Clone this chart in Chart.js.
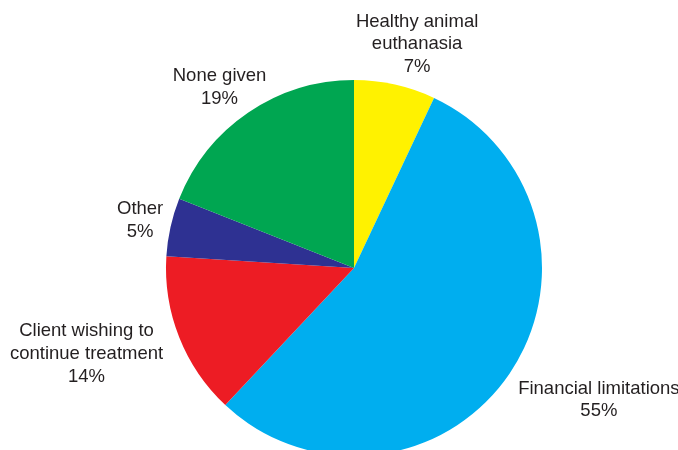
<!DOCTYPE html>
<html>
<head>
<meta charset="utf-8">
<script src="https://cdn.jsdelivr.net/npm/chart.js@4"></script>
<style>
  html, body { margin: 0; padding: 0; background: #fff; overflow: hidden; }
  #wrap { position: absolute; left: 0; top: 0; width: 678px; height: 460px; }
</style>
</head>
<body>
<div id="wrap"><canvas id="pie" width="678" height="460"></canvas></div>
<script>
const labels = [
  ['Healthy animal', 'euthanasia'],
  ['Financial limitations'],
  ['Client wishing to', 'continue treatment'],
  ['Other'],
  ['None given']
]
const shares = [7, 55, 14, 5, 19]
const colors = ['#fff200', '#00aeef', '#ed1c24', '#2e3192', '#00a651']

const FONT = '18.5px "Liberation Sans", Arial, Helvetica, sans-serif'
const LINE_H = 22.8
const GAP = 8
// small hand nudges per label so they sit clear of the pie
const NUDGE = [[7, 1], [16, 9], [-14, 1], [0, 0], [2, 0]]

// outside labels: text box pushed out along the slice's middle angle
const sliceLabels = {
  id: 'sliceLabels',
  afterDatasetsDraw(chart) {
    const ctx = chart.ctx
    const arcs = chart.getDatasetMeta(0).data
    ctx.save()
    ctx.font = FONT
    ctx.fillStyle = '#231f20'
    ctx.textAlign = 'center'
    ctx.textBaseline = 'middle'
    arcs.forEach((arc, i) => {
      const { x, y, startAngle, endAngle, outerRadius } = arc.getProps(['x', 'y', 'startAngle', 'endAngle', 'outerRadius'], true)
      const mid = (startAngle + endAngle) / 2
      const dx = Math.cos(mid), dy = Math.sin(mid)
      const lines = [...labels[i], shares[i] + '%']
      const w = Math.max(...lines.map(l => ctx.measureText(l).width))
      const h = lines.length * LINE_H
      const ax = x + (outerRadius + GAP) * dx
      const ay = y + (outerRadius + GAP) * dy
      const cx = ax + dx * w / 2 + NUDGE[i][0]
      const cy = ay + dy * h / 2 + NUDGE[i][1]
      lines.forEach((line, k) => {
        ctx.fillText(line, cx, cy - h / 2 + LINE_H * (k + 0.5))
      })
    })
    ctx.restore()
  }
}

new Chart(document.getElementById('pie'), {
  type: 'pie',
  data: {
    labels: labels.map(l => l.join(' ')),
    datasets: [{
      data: shares,
      backgroundColor: colors,
      borderWidth: 0
    }]
  },
  options: {
    responsive: false,
    animation: false,
    layout: { padding: { top: 80, bottom: 4, left: 166, right: 136 } },
    plugins: {
      legend: { display: false },
      tooltip: { enabled: false }
    }
  },
  plugins: [sliceLabels]
})
</script>
</body>
</html>
